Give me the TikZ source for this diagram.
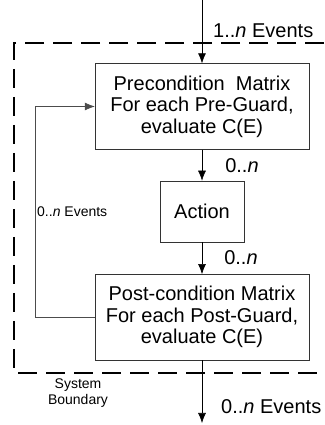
\documentclass[tikz,border=0pt]{standalone}
\usepackage{fontspec}
\setmainfont{Liberation Sans}
\usetikzlibrary{positioning}
\usetikzlibrary{arrows.meta}
\tikzset{
	box/.style = {
		draw=black!80,
		thin,
		align=center,
		inner sep=0pt,
		font=\fontsize{20}{21.5}\selectfont
	},
	matrixbox/.style = {
		box,
		minimum width=214pt,
		minimum height=86pt
	},
	actionbox/.style = {
		box,
		minimum width=84pt,
		minimum height=61pt
	},
	flow/.style = {
		-{Latex[length=10pt,width=8pt]},
		draw=black,
		semithick
	},
	feedback/.style = {
		flow,
		draw=black!70
	},
	boundary/.style = {
		draw=black,
		line width=2.5pt,
		dash pattern=on 19pt off 9pt
	},
	biglabel/.style = {
		inner sep=0pt,
		font=\fontsize{20}{22}\selectfont
	},
	smalllabel/.style = {
		inner sep=0pt,
		align=center,
		font=\fontsize{14}{15.5}\selectfont
	},
}

\begin{document}
\begin{tikzpicture}[x=1pt, y=1pt]
\useasboundingbox (0,0) rectangle (324,425);
% system boundary
\draw[boundary] (324,382) -- (14,382) -- (14,52) -- (324,52);
\node[smalllabel] (sysb) at (78,32) {System\\Boundary};
% the three stages
\node[matrixbox] (pre) at (202,318.5) {Precondition~~Matrix\\For each Pre-Guard,\\evaluate C(E)};
\node[actionbox, below=31pt of pre] (act) {Action};
\node[matrixbox, below=32pt of act] (post) {Post-condition Matrix\\For each Post-Guard,\\evaluate C(E)};
% in and out
\coordinate (in) at (202,425);
\coordinate (out) at (202,2);
\draw[flow] (in) -- (pre.north);
\node[biglabel, anchor=west] (inlbl) at (213,394) {1..\textit{n} Events};
\draw[flow] (pre) -- (act) node[biglabel, midway, anchor=west, xshift=23pt] (prelbl) {0..\textit{n}};
\draw[flow] (act) -- (post) node[biglabel, midway, anchor=west, xshift=22pt] (actlbl) {0..\textit{n}};
\draw[flow] (post) -- (out);
\node[biglabel, anchor=west] (outlbl) at (221,18) {0..\textit{n} Events};
% loop back
\draw[feedback] (post.west) -- ++(-60,0) |- (pre.west);
\node[smalllabel, anchor=west] (fblbl) at (37,213) {0..\textit{n} Events};
\end{tikzpicture}
\end{document}
